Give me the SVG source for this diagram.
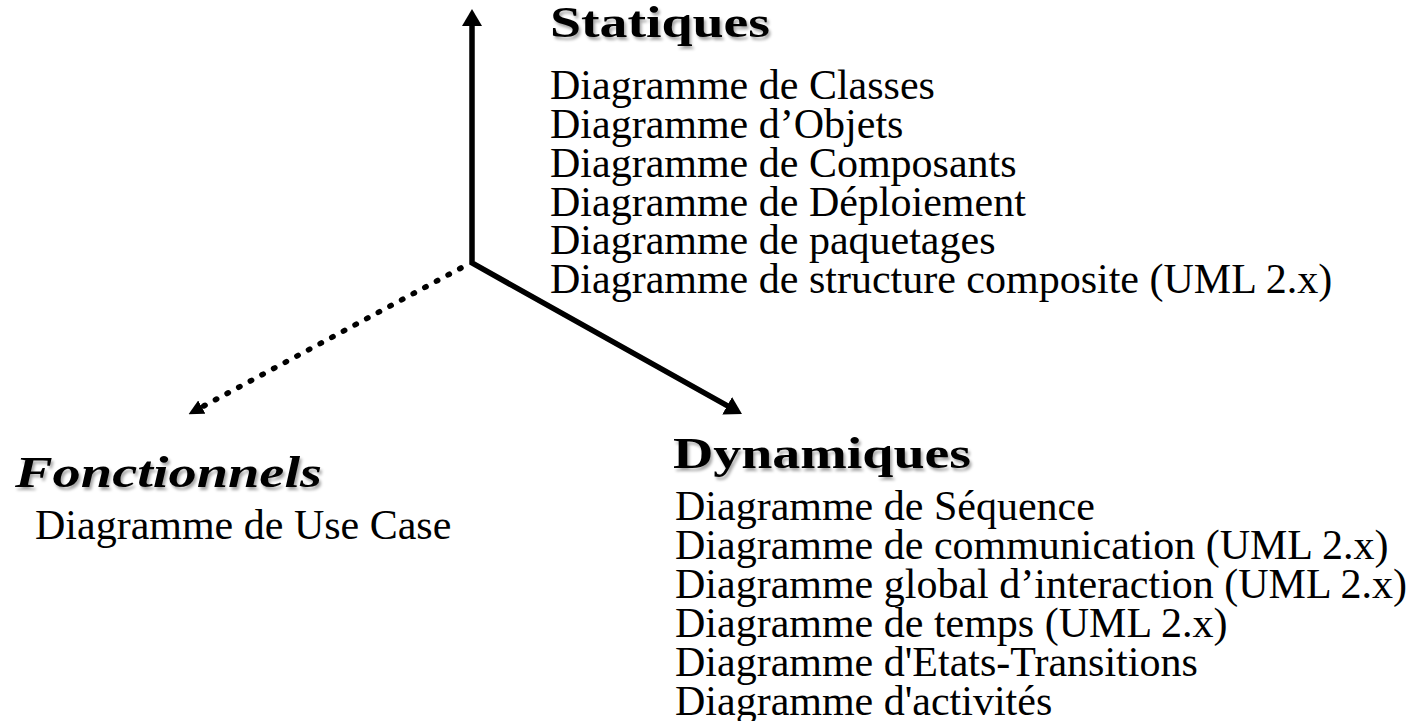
<svg xmlns="http://www.w3.org/2000/svg" width="1420" height="721" viewBox="0 0 1420 721">
<defs>
<style>
.h{font-family:"Liberation Serif","Times New Roman",serif;font-weight:bold;font-size:44px;fill:#000;filter:url(#sh)}
.b{font-family:"Liberation Serif","Times New Roman",serif;font-size:42px;fill:#000}
.ln{fill:none;stroke:#000;stroke-width:5.5}
.dot{fill:none;stroke:#000;stroke-width:5.5;stroke-linecap:round;stroke-dasharray:1.5 11.7}
</style>
<filter id="sh" x="-10%" y="-30%" width="130%" height="170%">
<feDropShadow dx="2" dy="3" stdDeviation="1.6" flood-color="#000" flood-opacity="0.35"/>
</filter>
<marker id="ah" markerUnits="userSpaceOnUse" viewBox="0 0 17 20" markerWidth="17" markerHeight="20" refX="2" refY="10" orient="auto-start-reverse">
<path d="M0,0 L17,10 L0,20 z" fill="#000"/>
</marker>
<marker id="ahs" markerUnits="userSpaceOnUse" viewBox="0 0 15 15" markerWidth="15" markerHeight="15" refX="2" refY="7.5" orient="auto">
<path d="M0,0 L15,7.5 L0,15 z" fill="#000"/>
</marker>
</defs>
<rect width="1420" height="721" fill="#fff"/>
<g id="connectors">
<path class="ln" d="M472,24 L472,263 L728.9,406.7" stroke-linejoin="miter" marker-start="url(#ah)" marker-end="url(#ah)"/>
<path class="dot" d="M461,268 L200,408" marker-end="url(#ahs)"/>
</g>
<g id="statiques">
<text class="h" x="550" y="37" textLength="220" lengthAdjust="spacingAndGlyphs">Statiques</text>
<text class="b" x="550" y="99">Diagramme de Classes</text>
<text class="b" x="550" y="138">Diagramme d’Objets</text>
<text class="b" x="550" y="177">Diagramme de Composants</text>
<text class="b" x="550" y="216">Diagramme de Déploiement</text>
<text class="b" x="550" y="254">Diagramme de paquetages</text>
<text class="b" x="550" y="293">Diagramme de structure composite (UML 2.x)</text>
</g>
<g id="fonctionnels">
<text class="h" x="15" y="487" font-style="italic" textLength="307" lengthAdjust="spacingAndGlyphs">Fonctionnels</text>
<text class="b" x="35" y="539">Diagramme de Use Case</text>
</g>
<g id="dynamiques">
<text class="h" x="673" y="468" textLength="298" lengthAdjust="spacingAndGlyphs">Dynamiques</text>
<text class="b" x="675" y="520">Diagramme de Séquence</text>
<text class="b" x="675" y="559">Diagramme de communication (UML 2.x)</text>
<text class="b" x="675" y="598">Diagramme global d’interaction (UML 2.x)</text>
<text class="b" x="675" y="637">Diagramme de temps (UML 2.x)</text>
<text class="b" x="675" y="676">Diagramme d'Etats-Transitions</text>
<text class="b" x="675" y="715">Diagramme d'activités</text>
</g>
</svg>
